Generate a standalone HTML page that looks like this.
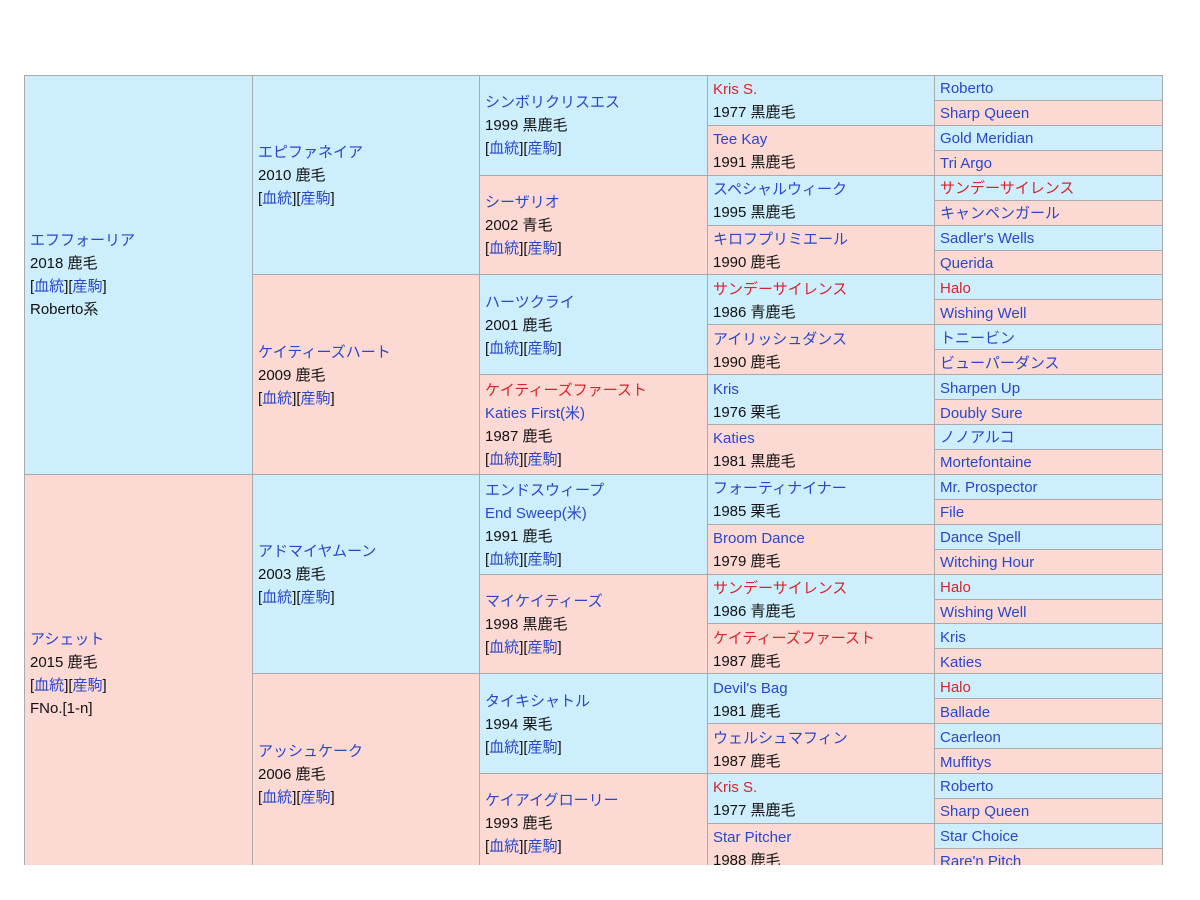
<!DOCTYPE html>
<html><head><meta charset="utf-8"><style>
html,body{margin:0;padding:0;background:#fff;width:1200px;height:900px;overflow:hidden}
#w{position:absolute;left:24px;top:75px;width:1139px;height:790px;overflow:hidden}
.c{position:absolute;box-sizing:border-box;border:1px solid #aaa;top:calc(var(--r)*24.93px);height:calc(var(--n)*24.93px + 1px);display:flex;flex-direction:column;justify-content:center;padding-left:5px;padding-top:1px;font-family:"Liberation Sans","Noto Sans CJK JP",sans-serif;font-size:15px;line-height:23px;color:#111;white-space:nowrap}
.b{background:#cdeefd}.p{background:#fdd9d4}
.g1{left:0;width:229px}.g2{left:228px;width:228px}.g3{left:455px;width:229px}.g4{left:683px;width:228px;padding-top:2px}.g5{left:910px;width:229px}
.g5{line-height:20px;padding-top:3px}
a{color:#2a47c9;text-decoration:none}.r{color:#d8232a}
</style></head><body><div id="w">
<div class="c g1 b" style="--r:0;--n:16"><div><a>エフフォーリア</a></div><div>2018 鹿毛</div><div>[<a>血統</a>][<a>産駒</a>]</div><div>Roberto系</div></div>
<div class="c g1 p" style="--r:16;--n:16"><div><a>アシェット</a></div><div>2015 鹿毛</div><div>[<a>血統</a>][<a>産駒</a>]</div><div>FNo.[1-n]</div></div>

<div class="c g2 b" style="--r:0;--n:8"><div><a>エピファネイア</a></div><div>2010 鹿毛</div><div>[<a>血統</a>][<a>産駒</a>]</div></div>
<div class="c g2 p" style="--r:8;--n:8"><div><a>ケイティーズハート</a></div><div>2009 鹿毛</div><div>[<a>血統</a>][<a>産駒</a>]</div></div>
<div class="c g2 b" style="--r:16;--n:8"><div><a>アドマイヤムーン</a></div><div>2003 鹿毛</div><div>[<a>血統</a>][<a>産駒</a>]</div></div>
<div class="c g2 p" style="--r:24;--n:8"><div><a>アッシュケーク</a></div><div>2006 鹿毛</div><div>[<a>血統</a>][<a>産駒</a>]</div></div>

<div class="c g3 b" style="--r:0;--n:4"><div><a>シンボリクリスエス</a></div><div>1999 黒鹿毛</div><div>[<a>血統</a>][<a>産駒</a>]</div></div>
<div class="c g3 p" style="--r:4;--n:4"><div><a>シーザリオ</a></div><div>2002 青毛</div><div>[<a>血統</a>][<a>産駒</a>]</div></div>
<div class="c g3 b" style="--r:8;--n:4"><div><a>ハーツクライ</a></div><div>2001 鹿毛</div><div>[<a>血統</a>][<a>産駒</a>]</div></div>
<div class="c g3 p" style="--r:12;--n:4"><div><a class="r">ケイティーズファースト</a></div><div><a>Katies First(米)</a></div><div>1987 鹿毛</div><div>[<a>血統</a>][<a>産駒</a>]</div></div>
<div class="c g3 b" style="--r:16;--n:4"><div><a>エンドスウィープ</a></div><div><a>End Sweep(米)</a></div><div>1991 鹿毛</div><div>[<a>血統</a>][<a>産駒</a>]</div></div>
<div class="c g3 p" style="--r:20;--n:4"><div><a>マイケイティーズ</a></div><div>1998 黒鹿毛</div><div>[<a>血統</a>][<a>産駒</a>]</div></div>
<div class="c g3 b" style="--r:24;--n:4"><div><a>タイキシャトル</a></div><div>1994 栗毛</div><div>[<a>血統</a>][<a>産駒</a>]</div></div>
<div class="c g3 p" style="--r:28;--n:4"><div><a>ケイアイグローリー</a></div><div>1993 鹿毛</div><div>[<a>血統</a>][<a>産駒</a>]</div></div>

<div class="c g4 b" style="--r:0;--n:2"><div><a class="r">Kris S.</a></div><div>1977 黒鹿毛</div></div>
<div class="c g4 p" style="--r:2;--n:2"><div><a>Tee Kay</a></div><div>1991 黒鹿毛</div></div>
<div class="c g4 b" style="--r:4;--n:2"><div><a>スペシャルウィーク</a></div><div>1995 黒鹿毛</div></div>
<div class="c g4 p" style="--r:6;--n:2"><div><a>キロフプリミエール</a></div><div>1990 鹿毛</div></div>
<div class="c g4 b" style="--r:8;--n:2"><div><a class="r">サンデーサイレンス</a></div><div>1986 青鹿毛</div></div>
<div class="c g4 p" style="--r:10;--n:2"><div><a>アイリッシュダンス</a></div><div>1990 鹿毛</div></div>
<div class="c g4 b" style="--r:12;--n:2"><div><a>Kris</a></div><div>1976 栗毛</div></div>
<div class="c g4 p" style="--r:14;--n:2"><div><a>Katies</a></div><div>1981 黒鹿毛</div></div>
<div class="c g4 b" style="--r:16;--n:2"><div><a>フォーティナイナー</a></div><div>1985 栗毛</div></div>
<div class="c g4 p" style="--r:18;--n:2"><div><a>Broom Dance</a></div><div>1979 鹿毛</div></div>
<div class="c g4 b" style="--r:20;--n:2"><div><a class="r">サンデーサイレンス</a></div><div>1986 青鹿毛</div></div>
<div class="c g4 p" style="--r:22;--n:2"><div><a class="r">ケイティーズファースト</a></div><div>1987 鹿毛</div></div>
<div class="c g4 b" style="--r:24;--n:2"><div><a>Devil's Bag</a></div><div>1981 鹿毛</div></div>
<div class="c g4 p" style="--r:26;--n:2"><div><a>ウェルシュマフィン</a></div><div>1987 鹿毛</div></div>
<div class="c g4 b" style="--r:28;--n:2"><div><a class="r">Kris S.</a></div><div>1977 黒鹿毛</div></div>
<div class="c g4 p" style="--r:30;--n:2"><div><a>Star Pitcher</a></div><div>1988 鹿毛</div></div>

<div class="c g5 b" style="--r:0;--n:1"><a>Roberto</a></div>
<div class="c g5 p" style="--r:1;--n:1"><a>Sharp Queen</a></div>
<div class="c g5 b" style="--r:2;--n:1"><a>Gold Meridian</a></div>
<div class="c g5 p" style="--r:3;--n:1"><a>Tri Argo</a></div>
<div class="c g5 b" style="--r:4;--n:1"><a class="r">サンデーサイレンス</a></div>
<div class="c g5 p" style="--r:5;--n:1"><a>キャンペンガール</a></div>
<div class="c g5 b" style="--r:6;--n:1"><a>Sadler's Wells</a></div>
<div class="c g5 p" style="--r:7;--n:1"><a>Querida</a></div>
<div class="c g5 b" style="--r:8;--n:1"><a class="r">Halo</a></div>
<div class="c g5 p" style="--r:9;--n:1"><a>Wishing Well</a></div>
<div class="c g5 b" style="--r:10;--n:1"><a>トニービン</a></div>
<div class="c g5 p" style="--r:11;--n:1"><a>ビューパーダンス</a></div>
<div class="c g5 b" style="--r:12;--n:1"><a>Sharpen Up</a></div>
<div class="c g5 p" style="--r:13;--n:1"><a>Doubly Sure</a></div>
<div class="c g5 b" style="--r:14;--n:1"><a>ノノアルコ</a></div>
<div class="c g5 p" style="--r:15;--n:1"><a>Mortefontaine</a></div>
<div class="c g5 b" style="--r:16;--n:1"><a>Mr. Prospector</a></div>
<div class="c g5 p" style="--r:17;--n:1"><a>File</a></div>
<div class="c g5 b" style="--r:18;--n:1"><a>Dance Spell</a></div>
<div class="c g5 p" style="--r:19;--n:1"><a>Witching Hour</a></div>
<div class="c g5 b" style="--r:20;--n:1"><a class="r">Halo</a></div>
<div class="c g5 p" style="--r:21;--n:1"><a>Wishing Well</a></div>
<div class="c g5 b" style="--r:22;--n:1"><a>Kris</a></div>
<div class="c g5 p" style="--r:23;--n:1"><a>Katies</a></div>
<div class="c g5 b" style="--r:24;--n:1"><a class="r">Halo</a></div>
<div class="c g5 p" style="--r:25;--n:1"><a>Ballade</a></div>
<div class="c g5 b" style="--r:26;--n:1"><a>Caerleon</a></div>
<div class="c g5 p" style="--r:27;--n:1"><a>Muffitys</a></div>
<div class="c g5 b" style="--r:28;--n:1"><a>Roberto</a></div>
<div class="c g5 p" style="--r:29;--n:1"><a>Sharp Queen</a></div>
<div class="c g5 b" style="--r:30;--n:1"><a>Star Choice</a></div>
<div class="c g5 p" style="--r:31;--n:1"><a>Rare'n Pitch</a></div>
</div></body></html>
